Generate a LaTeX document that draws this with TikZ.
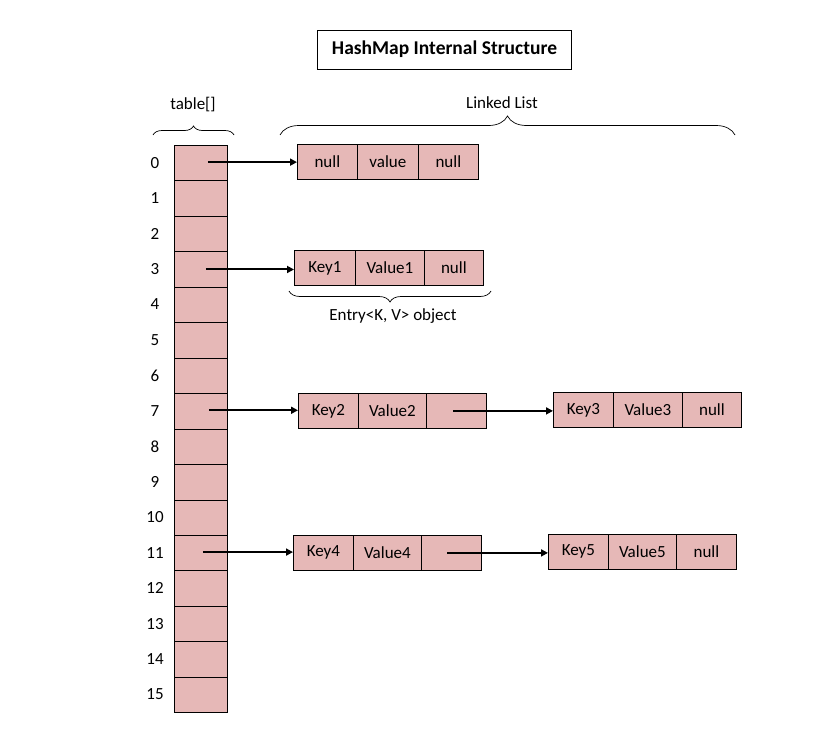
\documentclass[tikz,border=0pt]{standalone}
\usepackage{fontspec}
\setmainfont{Carlito}
\usetikzlibrary{arrows.meta,decorations.pathreplacing,calc}
\definecolor{cellpink}{RGB}{230,184,183}
\begin{document}
\begin{tikzpicture}[x=1pt,y=-1pt,
  cell/.style={draw=black, fill=cellpink, minimum height=35pt, inner sep=0pt,
    font=\fontsize{17}{19}\selectfont, line width=0.8pt, anchor=north west},
  tcell/.style={cell, minimum width=53pt, minimum height=35.45pt},
  lbl/.style={font=\fontsize{17}{19}\selectfont, inner sep=0pt},
  ptr/.style={line width=2pt, -{Triangle[length=7pt,width=7pt]}},
  brc/.style={decorate, line width=0.7pt},
  every node/.append style={text=black}]
\useasboundingbox[fill=white] (0,0) rectangle (832,731);

% title
\node[draw=black, line width=0.8pt, minimum width=254pt, minimum height=39pt,
  font=\fontsize{19.5}{21}\selectfont\bfseries] (title) at (444.5,49.5) {HashMap Internal Structure};

% table
\foreach \i in {0,...,15} {
  \node[tcell] (t\i) at (174,{145+35.45*\i}) {};
  \node[lbl] (n\i) at (155,{145+35.45*\i+17.7}) {\i};
}
\node[lbl] (tablelbl) at (193,105) {table[]};
\draw[brc, decoration={brace,amplitude=9pt}] (153,135) -- (234,135);

% linked list brace
\node[lbl] (lllbl) at (502,103) {Linked List};
\draw[brc, decoration={brace,amplitude=19pt,aspect=0.5}] (280,135) -- (735,135);

% row 0
\node[cell, minimum width=60pt] (a0) at (297,144) {null};
\node[cell, minimum width=61pt] (b0) at (357,144) {value};
\node[cell, minimum width=60pt] (c0) at (418,144) {null};

% row 3
\node[cell, minimum width=61pt] (a3) at (294,250) {Key1};
\node[cell, minimum width=69pt] (b3) at (355,250) {Value1};
\node[cell, minimum width=59pt] (c3) at (424,250) {null};
\draw[brc, decoration={brace,amplitude=11pt}] (491,291) -- (289,291);
\node[lbl] (entrylbl) at (393,316) {Entry<K, V> object};

% row 7
\node[cell, minimum width=60pt] (a7) at (298,393) {Key2};
\node[cell, minimum width=68pt] (b7) at (358,393) {Value2};
\node[cell, minimum width=60pt] (c7) at (426,393) {};
\node[cell, minimum width=60pt] (d7) at (553,392) {Key3};
\node[cell, minimum width=69pt] (e7) at (613,392) {Value3};
\node[cell, minimum width=59pt] (f7) at (682,392) {null};

% row 11
\node[cell, minimum width=60pt] (a11) at (293,535) {Key4};
\node[cell, minimum width=68pt] (b11) at (353,535) {Value4};
\node[cell, minimum width=60pt] (c11) at (421,535) {};
\node[cell, minimum width=60pt] (d11) at (548,534) {Key5};
\node[cell, minimum width=68pt] (e11) at (608,534) {Value5};
\node[cell, minimum width=60pt] (f11) at (676,534) {null};

% pointers
\coordinate (s0) at ($(t0.center)+(7,-1)$);
\coordinate (s3) at ($(t3.center)+(5,0)$);
\coordinate (s7) at ($(t7.center)+(8,-1)$);
\coordinate (s11) at ($(t11.center)+(2,-1)$);
\coordinate (s7b) at ($(c7.center)+(-3,0)$);
\coordinate (s11b) at ($(c11.center)+(-4,0)$);
\draw[ptr] (s0) -- (s0 -| a0.west);
\draw[ptr] (s3) -- (s3 -| a3.west);
\draw[ptr] (s7) -- (s7 -| a7.west);
\draw[ptr] (s11) -- (s11 -| a11.west);
\draw[ptr] (s7b) -- (s7b -| d7.west);
\draw[ptr] (s11b) -- (s11b -| d11.west);
\end{tikzpicture}
\end{document}
